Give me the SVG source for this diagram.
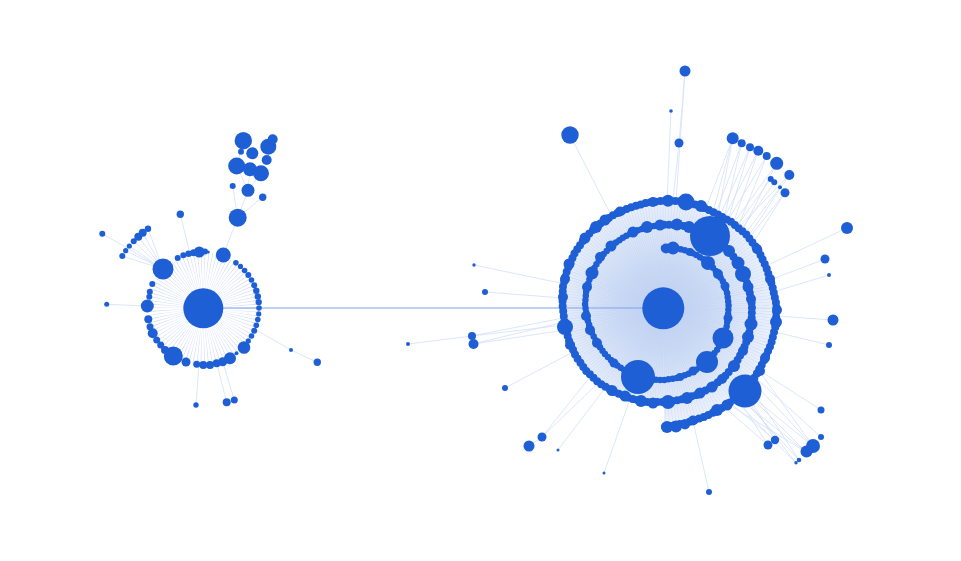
<svg xmlns="http://www.w3.org/2000/svg" width="961" height="561" viewBox="0 0 961 561">
<style>
.n{fill:#1f5fd5}
.e{stroke:#d3dff7;stroke-width:0.8;fill:none}
.chain{fill:none;stroke:#1f5fd5;stroke-linecap:round;stroke-linejoin:round}
</style>
<defs>
<radialGradient id="rg" gradientUnits="userSpaceOnUse" cx="663" cy="308" r="118">
<stop offset="0" stop-color="#bccff2"/>
<stop offset="0.35" stop-color="#cad9f4"/>
<stop offset="0.7" stop-color="#dde7f8"/>
<stop offset="1" stop-color="#eef3fc"/>
</radialGradient>
<clipPath id="sp"><path d="M664 402.1 L646.9 402.1 L630 398.5 L614 391.7 L598.8 382.8 L585.9 370.6 L575.7 356 L568.6 339.7 L564.5 322.5 L562.5 305 L562.8 287.1 L567.2 269.8 L574.5 253.4 L584.6 238.3 L597.3 225.5 L612.4 215.5 L628.7 207.9 L646 202.9 L664 200.6 L682.3 201.1 L700.1 205.9 L716.7 213.7 L732.2 222.6 L747.1 235.3 L758.4 250.5 L766.4 267.7 L772.3 285.9 L776.5 305 L775.9 324.7 L771.1 344 L763.2 362.3 L753.2 379.9 L739.8 395.4 L723.1 407.4 L704.7 416.8 L684.8 423.2 L664 427 Z"/></clipPath>
</defs>
<rect width="961" height="561" fill="#ffffff"/>
<g id="connectors">
<g clip-path="url(#sp)">
<rect x="550" y="190" width="240" height="245" fill="url(#rg)"/>
<circle cx="663" cy="308" r="62" fill="none" stroke="#c2d3f3" stroke-width="124" stroke-dasharray="0.3 1.5"/>
</g>
<circle cx="203" cy="308" r="28" fill="none" stroke="#cddbf6" stroke-width="56" stroke-dasharray="0.35 1.6"/>
<line x1="203" y1="308" x2="663" y2="308" stroke="#7fa3ea" stroke-width="1"/>
<path class="e" d="M163 269 L102.3 233.7 M163 269 L122.3 256 M163 269 L125.7 250.7 M163 269 L129.3 246 M163 269 L133.7 241.3 M163 269 L138.3 236.7 M163 269 L142.7 232.7 M163 269 L148 228.7
M180.3 214.3 L190 254 M223.3 255 L237.7 217.7 M237.7 217.7 L248 190.3 M237.7 217.7 L232.7 186 M237.7 217.7 L262.7 197.3 M248 190.3 L250 169.3 M248 190.3 L236.7 166 M248 190.3 L261 173.3 M236.7 166 L243.3 140.7
M147.3 306 L106.7 304.3 M256.3 330 L291 350 L317.3 362.3 M199 364 L196 405 M216.7 363.3 L226.7 402.3 M222.7 361.7 L234.3 400"/>
<path class="e" d="M570 135 L611 215 M685 71 L679 143 M685 71 L676 201 M679 143 L673 201 M671 111 L667 201
M732.7 138.3 L713 212 M732.7 138.3 L718 215 M732.7 138.3 L706 208 M741.7 143.3 L716 213 M741.7 143.3 L724 218 M750 147.3 L720 216 M750 147.3 L728 220 M758.3 150.7 L724 218 M758.3 150.7 L733 224 M766.7 156 L728 220 M766.7 156 L738 227 M776.7 163.3 L733 224 M776.7 163.3 L742 231 M789.3 175 L738 228 M789.3 175 L748 237 M770.7 179 L737 226 M774.3 182.3 L741 230 M780 187.3 L745 234 M785 192.7 L749 238 M785 192.7 L753 243
M847 228 L766 266 M825 259 L770 280 M829 275 L773 292 M833 320 L777 316 M829 345 L775 332 M821 410 L762 372 M821 437 L758 380
M813 446 L745 391 M813 446 L753 382 M806 452 L745 391 M806 452 L738 398 M799 460 L740 396 M796 463 L735 400 M813 446 L760 372 M775 440 L745 391 M768 445 L738 398 M775 440 L730 403 M768 445 L724 407 M806 452 L728 404 M799 460 L750 386 M796 463 L742 394
M709 492 L693 421 M604 473 L630 399 M542 437 L598 383 M542 437 L590 377 M529 446 L542 437 M558 450 L605 388 M505 388 L571 353
M472 336 L563 318 M473 344 L564 322 M472 336 L564 325 M473 344 L565 330 M408 344 L472 336 M485 292 L563 298 M474 265 L565 284"/>
</g>
<g id="spiral-chain">
<path class="chain" stroke-width="6.5" stroke-dasharray="0 4.2" d="M664 248 L674 248.1 L684 250 L693.7 253.6 L702.8 258.7 L711 265.5 L718.2 273.7 L724 283.2 L727.3 293.8 L728.6 305 L728 316.3 L726.5 327.7 L722.9 339 L717.2 349.6 L709.4 359.1 L700 367.3 L689 373.7 L676.9 378.1 L664 380 L650.8 379.6 L637.8 376.9 L625.8 371.3 L614.8 363.7 L605.2 354.4 L597.3 343.5 L591.2 331.5 L587.2 318.5 L585 305 L586.2 291.3 L589.8 278 L595.6 265.5 L603.5 254.2 L613.2 244.5 L624.5 236.6 L636.9 230.6 L650.2 226.6 L664 224.7"/>
<path class="chain" stroke-width="8" stroke-dasharray="0 5" d="M664 224.7 L678.1 225 L692.1 227.7 L705.8 232.6 L718.2 240.4 L728.8 250.6 L737.6 262.5 L744.6 275.7 L749.3 290 L752 305 L751.6 320.5 L748.6 335.8 L743 350.6 L734.9 364.5 L724.4 376.9 L711.5 387.3 L696.7 394.8 L680.7 399.8 L664 402.1 L646.9 402.1 L630 398.5 L614 391.7 L598.8 382.8 L585.9 370.6 L575.7 356 L568.6 339.7 L564.5 322.5 L562.5 305 L562.8 287.1 L567.2 269.8 L574.5 253.4 L584.6 238.3 L597.3 225.5 L612.4 215.5 L628.7 207.9 L646 202.9 L664 200.6 L682.3 201.1 L700.1 205.9 L716.7 213.7 L732.2 222.6 L747.1 235.3 L758.4 250.5 L766.4 267.7 L772.3 285.9 L776.5 305 L775.9 324.7 L771.1 344 L763.2 362.3 L753.2 379.9 L739.8 395.4 L723.1 407.4 L704.7 416.8 L684.8 423.2 L664 427"/>
</g>
<g id="nodes">
<g id="c-left" class="n"><circle cx="203.3" cy="308.3" r="20"/></g>
<g id="c-right" class="n"><circle cx="663.3" cy="308.3" r="21"/></g>
<g id="l1" class="n"><circle cx="235.9" cy="262.7" r="2.8"/></g>
<g id="l2" class="n"><circle cx="240.5" cy="266.4" r="2.6"/></g>
<g id="l3" class="n"><circle cx="244.6" cy="270.5" r="2.8"/></g>
<g id="l4" class="n"><circle cx="248.3" cy="275.1" r="3"/></g>
<g id="l5" class="n"><circle cx="251.5" cy="280" r="2.8"/></g>
<g id="l6" class="n"><circle cx="254.2" cy="285.2" r="3"/></g>
<g id="l7" class="n"><circle cx="256.3" cy="290.7" r="3.2"/></g>
<g id="l8" class="n"><circle cx="257.8" cy="296.4" r="3.2"/></g>
<g id="l9" class="n"><circle cx="258.7" cy="302.1" r="3.2"/></g>
<g id="l10" class="n"><circle cx="259" cy="308" r="2.8"/></g>
<g id="l11" class="n"><circle cx="258.7" cy="313.9" r="2.6"/></g>
<g id="l12" class="n"><circle cx="257.8" cy="319.6" r="2.8"/></g>
<g id="l13" class="n"><circle cx="256.3" cy="325.3" r="2.8"/></g>
<g id="l14" class="n"><circle cx="254.2" cy="330.8" r="3"/></g>
<g id="l15" class="n"><circle cx="251.5" cy="336" r="2.8"/></g>
<g id="l16" class="n"><circle cx="248.3" cy="340.9" r="2.6"/></g>
<g id="l17" class="n"><circle cx="244" cy="347.5" r="6.3"/></g>
<g id="l18" class="n"><circle cx="236.5" cy="353.3" r="2"/></g>
<g id="l19" class="n"><circle cx="230" cy="358.3" r="6"/></g>
<g id="l20" class="n"><circle cx="222.7" cy="361.7" r="4.5"/></g>
<g id="l21" class="n"><circle cx="216.7" cy="363.3" r="4"/></g>
<g id="l22" class="n"><circle cx="210" cy="365" r="4"/></g>
<g id="l23" class="n"><circle cx="203.3" cy="365" r="4"/></g>
<g id="l24" class="n"><circle cx="196.7" cy="364.3" r="3.5"/></g>
<g id="l25" class="n"><circle cx="186" cy="362" r="4.5"/></g>
<g id="l26" class="n"><circle cx="173.3" cy="356" r="9.5"/></g>
<g id="l27" class="n"><circle cx="165" cy="350" r="4"/></g>
<g id="l28" class="n"><circle cx="160.7" cy="345" r="3.5"/></g>
<g id="l29" class="n"><circle cx="156.7" cy="340" r="3.5"/></g>
<g id="l30" class="n"><circle cx="152.7" cy="333.3" r="5"/></g>
<g id="l31" class="n"><circle cx="150" cy="326.7" r="3.5"/></g>
<g id="l32" class="n"><circle cx="148.3" cy="319.3" r="4"/></g>
<g id="l33" class="n"><circle cx="147.3" cy="306" r="6.5"/></g>
<g id="l34" class="n"><circle cx="149.3" cy="296.7" r="3"/></g>
<g id="l35" class="n"><circle cx="149.8" cy="291.7" r="3"/></g>
<g id="l36" class="n"><circle cx="152.3" cy="284" r="3"/></g>
<g id="l37" class="n"><circle cx="163" cy="269" r="10.5"/></g>
<g id="l38" class="n"><circle cx="177.7" cy="258" r="3"/></g>
<g id="l39" class="n"><circle cx="183.3" cy="255.2" r="3"/></g>
<g id="l40" class="n"><circle cx="188.5" cy="253.8" r="3.2"/></g>
<g id="l41" class="n"><circle cx="193.5" cy="252.8" r="3.5"/></g>
<g id="l42" class="n"><circle cx="199.3" cy="252" r="5.5"/></g>
<g id="l43" class="n"><circle cx="205" cy="251.5" r="3"/></g>
<g id="l44" class="n"><circle cx="208.3" cy="252" r="1.5"/></g>
<g id="l45" class="n"><circle cx="223.3" cy="255" r="7.5"/></g>
<g id="lx1" class="n"><circle cx="102.3" cy="233.7" r="3"/></g>
<g id="lx2" class="n"><circle cx="122.3" cy="256" r="3"/></g>
<g id="lx3" class="n"><circle cx="125.7" cy="250.7" r="2.6"/></g>
<g id="lx4" class="n"><circle cx="129.3" cy="246" r="2.6"/></g>
<g id="lx5" class="n"><circle cx="133.7" cy="241.3" r="3"/></g>
<g id="lx6" class="n"><circle cx="138.3" cy="236.7" r="4"/></g>
<g id="lx7" class="n"><circle cx="142.7" cy="232.7" r="4"/></g>
<g id="lx8" class="n"><circle cx="148" cy="228.7" r="3.2"/></g>
<g id="lx9" class="n"><circle cx="180.3" cy="214.3" r="3.7"/></g>
<g id="lx10" class="n"><circle cx="237.7" cy="217.7" r="9"/></g>
<g id="lx11" class="n"><circle cx="248" cy="190.3" r="6.5"/></g>
<g id="lx12" class="n"><circle cx="232.7" cy="186" r="3"/></g>
<g id="lx13" class="n"><circle cx="262.7" cy="197.3" r="3.7"/></g>
<g id="lx14" class="n"><circle cx="243.3" cy="140.7" r="8.7"/></g>
<g id="lx15" class="n"><circle cx="236.7" cy="166" r="8.5"/></g>
<g id="lx16" class="n"><circle cx="250" cy="169.3" r="7"/></g>
<g id="lx17" class="n"><circle cx="261" cy="173.3" r="8"/></g>
<g id="lx18" class="n"><circle cx="252.3" cy="153.3" r="6"/></g>
<g id="lx19" class="n"><circle cx="268.3" cy="146.7" r="8"/></g>
<g id="lx20" class="n"><circle cx="272.7" cy="139.3" r="5"/></g>
<g id="lx21" class="n"><circle cx="266.7" cy="160" r="5"/></g>
<g id="lx22" class="n"><circle cx="241" cy="151.7" r="3"/></g>
<g id="lx23" class="n"><circle cx="106.7" cy="304.3" r="2.5"/></g>
<g id="lx24" class="n"><circle cx="291" cy="350" r="2"/></g>
<g id="lx25" class="n"><circle cx="317.3" cy="362.3" r="3.7"/></g>
<g id="lx26" class="n"><circle cx="196" cy="405" r="2.7"/></g>
<g id="lx27" class="n"><circle cx="226.7" cy="402.3" r="4"/></g>
<g id="lx28" class="n"><circle cx="234.3" cy="400" r="3.5"/></g>
<g id="s1" class="n"><circle cx="666" cy="248.5" r="5"/></g>
<g id="s2" class="n"><circle cx="673" cy="248" r="6.5"/></g>
<g id="s3" class="n"><circle cx="690" cy="252" r="4"/></g>
<g id="s4" class="n"><circle cx="708" cy="263" r="7"/></g>
<g id="s5" class="n"><circle cx="718" cy="274" r="5"/></g>
<g id="s6" class="n"><circle cx="725" cy="286" r="4.5"/></g>
<g id="s7" class="n"><circle cx="728" cy="318" r="4.5"/></g>
<g id="s8" class="n"><circle cx="723" cy="338" r="10.5"/></g>
<g id="s9" class="n"><circle cx="707" cy="362" r="11"/></g>
<g id="s10" class="n"><circle cx="693" cy="371" r="4.5"/></g>
<g id="s11" class="n"><circle cx="680" cy="377" r="4"/></g>
<g id="s12" class="n"><circle cx="651" cy="380" r="4"/></g>
<g id="s13" class="n"><circle cx="638" cy="377" r="17"/></g>
<g id="s14" class="n"><circle cx="614" cy="363" r="4.5"/></g>
<g id="s15" class="n"><circle cx="597" cy="343" r="5"/></g>
<g id="s16" class="n"><circle cx="590" cy="330" r="5"/></g>
<g id="s17" class="n"><circle cx="586" cy="316" r="5"/></g>
<g id="s18" class="n"><circle cx="587" cy="287" r="5"/></g>
<g id="s19" class="n"><circle cx="592" cy="273" r="6.5"/></g>
<g id="s20" class="n"><circle cx="600" cy="257" r="5"/></g>
<g id="s21" class="n"><circle cx="611" cy="246" r="5.5"/></g>
<g id="s22" class="n"><circle cx="633" cy="232" r="5.5"/></g>
<g id="s23" class="n"><circle cx="647" cy="227" r="6"/></g>
<g id="s24" class="n"><circle cx="660" cy="225" r="5.5"/></g>
<g id="s25" class="n"><circle cx="677" cy="224.5" r="6"/></g>
<g id="s26" class="n"><circle cx="689" cy="227" r="6"/></g>
<g id="s27" class="n"><circle cx="710" cy="236" r="20"/></g>
<g id="s28" class="n"><circle cx="729" cy="251" r="6"/></g>
<g id="s29" class="n"><circle cx="738" cy="263" r="6.5"/></g>
<g id="s30" class="n"><circle cx="743" cy="274" r="8"/></g>
<g id="s31" class="n"><circle cx="748" cy="287" r="5.5"/></g>
<g id="s32" class="n"><circle cx="751" cy="299" r="5"/></g>
<g id="s33" class="n"><circle cx="751" cy="324" r="6.5"/></g>
<g id="s34" class="n"><circle cx="748" cy="337" r="6"/></g>
<g id="s35" class="n"><circle cx="743" cy="351" r="5"/></g>
<g id="s36" class="n"><circle cx="734" cy="366" r="6"/></g>
<g id="s37" class="n"><circle cx="722" cy="379" r="5"/></g>
<g id="s38" class="n"><circle cx="712" cy="387" r="5.5"/></g>
<g id="s39" class="n"><circle cx="700" cy="393" r="5.5"/></g>
<g id="s40" class="n"><circle cx="687" cy="398" r="6"/></g>
<g id="s41" class="n"><circle cx="668" cy="402" r="7"/></g>
<g id="s42" class="n"><circle cx="653" cy="403" r="5.5"/></g>
<g id="s43" class="n"><circle cx="641" cy="401" r="6"/></g>
<g id="s44" class="n"><circle cx="625" cy="396" r="5.5"/></g>
<g id="s45" class="n"><circle cx="612" cy="390.5" r="5.5"/></g>
<g id="s46" class="n"><circle cx="570" cy="345" r="5"/></g>
<g id="s47" class="n"><circle cx="565" cy="327" r="8"/></g>
<g id="s48" class="n"><circle cx="563" cy="297" r="5"/></g>
<g id="s49" class="n"><circle cx="565" cy="279" r="5"/></g>
<g id="s50" class="n"><circle cx="569" cy="264" r="5.5"/></g>
<g id="s51" class="n"><circle cx="585" cy="238" r="5.5"/></g>
<g id="s52" class="n"><circle cx="596" cy="227" r="6"/></g>
<g id="s53" class="n"><circle cx="605" cy="220" r="5.5"/></g>
<g id="s54" class="n"><circle cx="620" cy="211.5" r="5"/></g>
<g id="s55" class="n"><circle cx="653" cy="202" r="5"/></g>
<g id="s56" class="n"><circle cx="668" cy="200.8" r="6"/></g>
<g id="s57" class="n"><circle cx="686" cy="202" r="8.5"/></g>
<g id="s58" class="n"><circle cx="701" cy="206" r="6"/></g>
<g id="s59" class="n"><circle cx="757" cy="249" r="5"/></g>
<g id="s60" class="n"><circle cx="770" cy="279" r="5"/></g>
<g id="s61" class="n"><circle cx="777" cy="310" r="5"/></g>
<g id="s62" class="n"><circle cx="776" cy="322" r="6"/></g>
<g id="s63" class="n"><circle cx="765" cy="358" r="5"/></g>
<g id="s64" class="n"><circle cx="760" cy="371" r="5"/></g>
<g id="s65" class="n"><circle cx="745" cy="391" r="16.5"/></g>
<g id="s66" class="n"><circle cx="727" cy="405" r="5.5"/></g>
<g id="s67" class="n"><circle cx="717" cy="410" r="6"/></g>
<g id="s68" class="n"><circle cx="693" cy="420.5" r="5"/></g>
<g id="s69" class="n"><circle cx="685" cy="424.5" r="5"/></g>
<g id="s70" class="n"><circle cx="676" cy="426.5" r="6"/></g>
<g id="s71" class="n"><circle cx="667" cy="427" r="6"/></g>
<g id="rx1" class="n"><circle cx="570" cy="135" r="8.7"/></g>
<g id="rx2" class="n"><circle cx="685" cy="71" r="5.5"/></g>
<g id="rx3" class="n"><circle cx="679" cy="143" r="4.5"/></g>
<g id="rx4" class="n"><circle cx="671" cy="111" r="1.8"/></g>
<g id="rx5" class="n"><circle cx="732.7" cy="138.3" r="6"/></g>
<g id="rx6" class="n"><circle cx="741.7" cy="143.3" r="4"/></g>
<g id="rx7" class="n"><circle cx="750" cy="147.3" r="4"/></g>
<g id="rx8" class="n"><circle cx="758.3" cy="150.7" r="5"/></g>
<g id="rx9" class="n"><circle cx="766.7" cy="156" r="4"/></g>
<g id="rx10" class="n"><circle cx="776.7" cy="163.3" r="6.5"/></g>
<g id="rx11" class="n"><circle cx="789.3" cy="175" r="5"/></g>
<g id="rx12" class="n"><circle cx="770.7" cy="179" r="3"/></g>
<g id="rx13" class="n"><circle cx="774.3" cy="182.3" r="3"/></g>
<g id="rx14" class="n"><circle cx="780" cy="187.3" r="2"/></g>
<g id="rx15" class="n"><circle cx="785" cy="192.7" r="4.5"/></g>
<g id="rx16" class="n"><circle cx="847" cy="228" r="6"/></g>
<g id="rx17" class="n"><circle cx="825" cy="259" r="4.5"/></g>
<g id="rx18" class="n"><circle cx="829" cy="275" r="2"/></g>
<g id="rx19" class="n"><circle cx="833" cy="320" r="5.5"/></g>
<g id="rx20" class="n"><circle cx="829" cy="345" r="3"/></g>
<g id="rx21" class="n"><circle cx="821" cy="410" r="3.5"/></g>
<g id="rx22" class="n"><circle cx="821" cy="437" r="3"/></g>
<g id="rx23" class="n"><circle cx="813" cy="446" r="7"/></g>
<g id="rx24" class="n"><circle cx="806.5" cy="451.5" r="6"/></g>
<g id="rx25" class="n"><circle cx="799" cy="460" r="2.3"/></g>
<g id="rx26" class="n"><circle cx="796" cy="462.7" r="1.7"/></g>
<g id="rx27" class="n"><circle cx="775" cy="440" r="4.2"/></g>
<g id="rx28" class="n"><circle cx="768" cy="445" r="4.5"/></g>
<g id="rx29" class="n"><circle cx="709" cy="492" r="3"/></g>
<g id="rx30" class="n"><circle cx="604" cy="473" r="1.5"/></g>
<g id="rx31" class="n"><circle cx="542" cy="437" r="4.5"/></g>
<g id="rx32" class="n"><circle cx="529" cy="446" r="5.5"/></g>
<g id="rx33" class="n"><circle cx="558" cy="450" r="1.5"/></g>
<g id="rx34" class="n"><circle cx="505" cy="388" r="3"/></g>
<g id="rx35" class="n"><circle cx="472" cy="336" r="4"/></g>
<g id="rx36" class="n"><circle cx="473.5" cy="344" r="5"/></g>
<g id="rx37" class="n"><circle cx="408" cy="344" r="2"/></g>
<g id="rx38" class="n"><circle cx="485" cy="292" r="3"/></g>
<g id="rx39" class="n"><circle cx="474" cy="265" r="1.7"/></g>
</g>
</svg>
